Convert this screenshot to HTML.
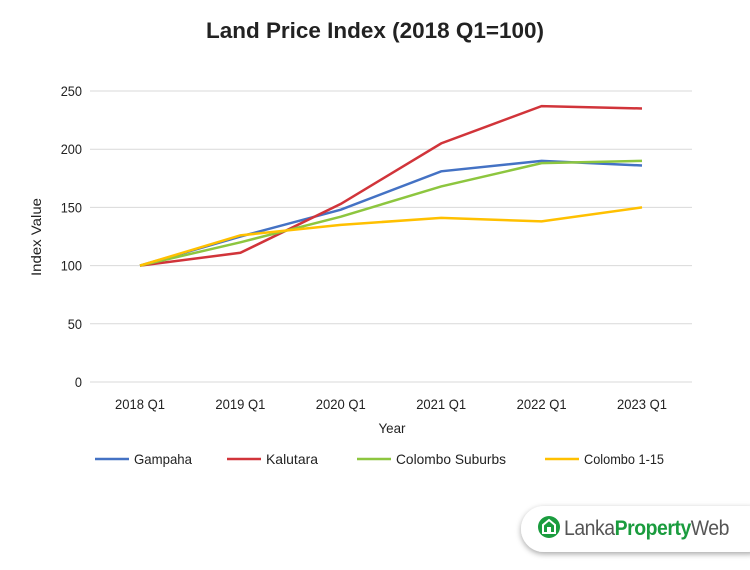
<!DOCTYPE html>
<html><head><meta charset="utf-8"><style>
body{margin:0;width:750px;height:565px;background:#fff;overflow:hidden;font-family:"Liberation Sans",sans-serif;}
svg text{font-family:"Liberation Sans",sans-serif;fill:#222;}
</style></head><body>
<svg id="chart" width="750" height="565">
<defs><filter id="sh" x="-10%" y="-30%" width="130%" height="170%"><feDropShadow dx="0" dy="2" stdDeviation="3" flood-color="#000" flood-opacity="0.35"/></filter></defs>
<text x="375" y="38" text-anchor="middle" textLength="338" lengthAdjust="spacingAndGlyphs" style="font-weight:bold;font-size:22px">Land Price Index (2018 Q1=100)</text>
<g id="grid"></g><g id="series"></g>
<text transform="translate(41,237) rotate(-90)" text-anchor="middle" font-size="14" textLength="78" lengthAdjust="spacingAndGlyphs">Index Value</text>
<text x="392" y="433" text-anchor="middle" font-size="14" textLength="27" lengthAdjust="spacingAndGlyphs">Year</text>
<g id="legend"></g>
<g>
<rect x="521" y="506" width="250" height="46" rx="23" fill="#fff" filter="url(#sh)"/>
<circle cx="549" cy="527" r="11" fill="#1a9c3e"/>
<path d="M543 533 v-8 l6 -5 l6 5 v8 z" fill="none" stroke="#fff" stroke-width="2"/>
<rect x="547" y="527" width="4" height="5" fill="#fff"/>
<text x="564" y="535" textLength="165" lengthAdjust="spacingAndGlyphs" style="font-size:21px;letter-spacing:-0.5px"><tspan fill="#555">Lanka</tspan><tspan fill="#1a9c3e" font-weight="bold">Property</tspan><tspan fill="#555">Web</tspan></text>
</g>
</svg>
<script>
const categories=["2018 Q1","2019 Q1","2020 Q1","2021 Q1","2022 Q1","2023 Q1"];
const yTicks=[0,50,100,150,200,250];
const seriesNames=["Gampaha","Kalutara","Colombo Suburbs","Colombo 1-15"];
const gampaha=[100,125,148,181,190,186];
const kalutara=[100,111,153,205,237,235];
const suburbs=[100,120,142,168,188,190];
const colombo=[100,126,135,141,138,150];
const colors=["#4472c4","#d1343a","#8dc63f","#ffc000"];
const NS="http://www.w3.org/2000/svg";
const x0=140,dx=100.4,yBase=382,yTop=91,yMax=250;
const xs=i=>x0+i*dx;
const ys=v=>yBase-(v/yMax)*(yBase-yTop);
const charW=7.1;
const grid=document.getElementById('grid');
yTicks.forEach(t=>{
 const l=document.createElementNS(NS,'line');
 l.setAttribute('x1',90);l.setAttribute('x2',692);l.setAttribute('y1',ys(t));l.setAttribute('y2',ys(t));
 l.setAttribute('stroke','#d9d9d9');l.setAttribute('stroke-width','1');
 
 
 grid.appendChild(l);
 const tx=document.createElementNS(NS,'text');
 tx.setAttribute('x',82);tx.setAttribute('y',ys(t)+5);tx.setAttribute('text-anchor','end');tx.setAttribute('font-size','14');
 tx.setAttribute('textLength',String(t).length*charW);tx.setAttribute('lengthAdjust','spacingAndGlyphs');
 tx.textContent=t;
 
 
 grid.appendChild(tx);
});
categories.forEach((c,i)=>{
 const tx=document.createElementNS(NS,'text');
 tx.setAttribute('x',xs(i));tx.setAttribute('y',409);tx.setAttribute('text-anchor','middle');tx.setAttribute('font-size','14');
 tx.setAttribute('textLength',50);tx.setAttribute('lengthAdjust','spacingAndGlyphs');
 tx.textContent=c;
 
 
 grid.appendChild(tx);
});
const all=[gampaha,kalutara,suburbs,colombo];
const sg=document.getElementById('series');
all.forEach((d,k)=>{
 const p=document.createElementNS(NS,'polyline');
 p.setAttribute('points',d.map((v,i)=>xs(i)+','+ys(v)).join(' '));
 p.setAttribute('fill','none');p.setAttribute('stroke',colors[k]);p.setAttribute('stroke-width','2.5');
 
 
 sg.appendChild(p);
});
const lx=[95,227,357,545];
const lw=[58,52,110,80];
const lg=document.getElementById('legend');
seriesNames.forEach((n,k)=>{
 const g=document.createElementNS(NS,'g');
 
 
 const l=document.createElementNS(NS,'line');
 l.setAttribute('x1',lx[k]);l.setAttribute('x2',lx[k]+34);l.setAttribute('y1',459);l.setAttribute('y2',459);
 l.setAttribute('stroke',colors[k]);l.setAttribute('stroke-width','2.5');
 g.appendChild(l);
 const t=document.createElementNS(NS,'text');
 t.setAttribute('x',lx[k]+39);t.setAttribute('y',464);t.setAttribute('font-size','14');
 t.setAttribute('textLength',lw[k]);t.setAttribute('lengthAdjust','spacingAndGlyphs');
 t.textContent=n;
 g.appendChild(t);
 lg.appendChild(g);
});
</script>
</body></html>
